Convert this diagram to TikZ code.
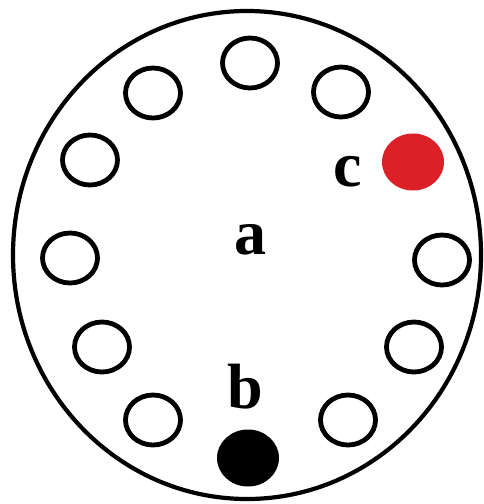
\documentclass[tikz,border=0pt]{standalone}
\usepackage{fontspec}
\setmainfont{Liberation Serif}
\usetikzlibrary{shapes.geometric}
\definecolor{holered}{RGB}{220,32,39}
\tikzset{
  hole/.style={draw,ellipse,line width=4.8pt,minimum width=55pt,minimum height=50pt,inner sep=0pt},
  fullhole/.style={ellipse,minimum width=62pt,minimum height=57pt,inner sep=0pt},
  letter/.style={font=\bfseries\fontsize{64}{64}\selectfont,inner sep=0pt}
}
\begin{document}
\begin{tikzpicture}[x=1pt,y=-1pt]
\useasboundingbox (0,0) rectangle (484,504);
\draw[line width=4.2pt] (247,255) ellipse (234pt and 244pt);
\node[hole] (h1) at (250,63) {};
\node[hole] (h2) at (341,92) {};
\node[fullhole,fill=holered] (c1) at (413,162) {};
\node[hole] (h3) at (442,260) {};
\node[hole] (h4) at (414,347) {};
\node[hole] (h5) at (348,420) {};
\node[fullhole,fill=black] (b1) at (248,458) {};
\node[hole] (h6) at (153,420) {};
\node[hole] (h7) at (102,347) {};
\node[hole] (h8) at (70,258) {};
\node[hole] (h9) at (90,160) {};
\node[hole] (h10) at (153,93) {};
\node[letter] (A) at (250,240) {a};
\node[letter] (B) at (245,387) {b};
\node[letter] (C) at (348,172) {c};
\end{tikzpicture}
\end{document}
